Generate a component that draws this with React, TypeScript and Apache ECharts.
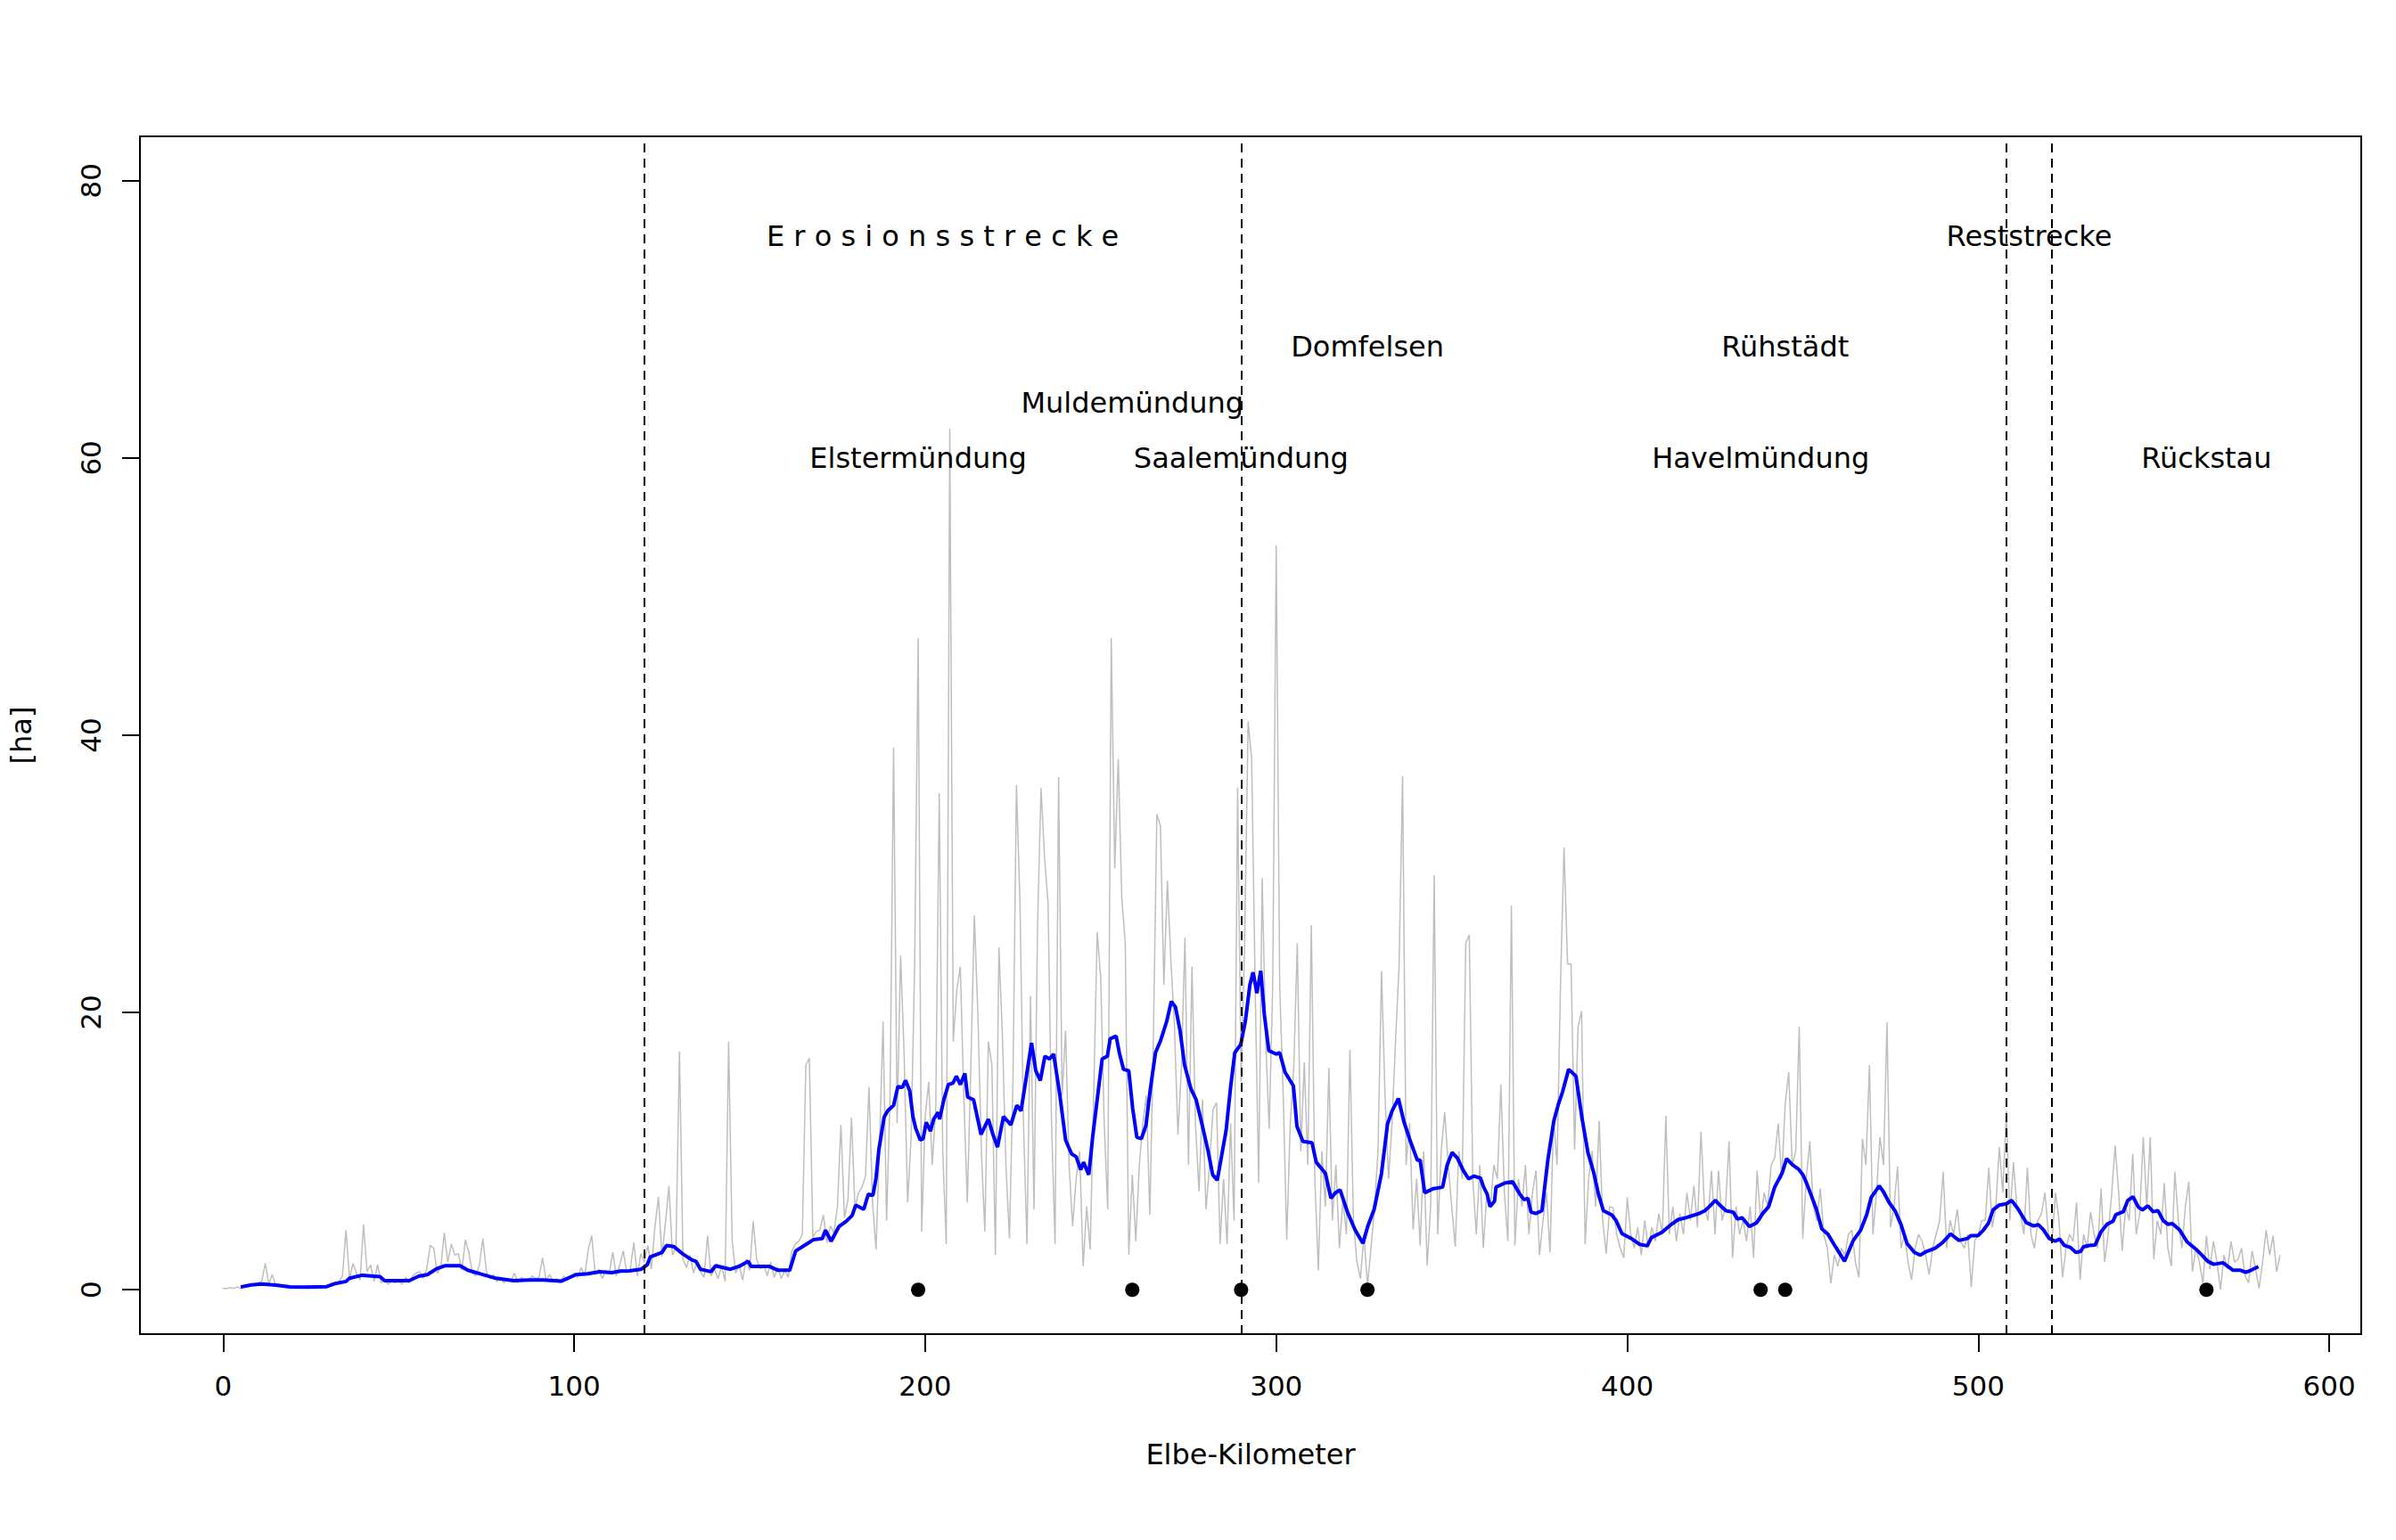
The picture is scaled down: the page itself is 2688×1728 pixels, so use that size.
import React, { useEffect, useRef } from "react";
import * as echarts from "echarts";

// Raw values per Elbe kilometre (index = km, 0..586)
const rawValues: number[] = [
  0.1, 0.1, 0.15, 0.1, 0.2, 0.1, 0.3, 0.2, 0.4, 0.3,
  0.5, 0.6, 1.9, 0.4, 1.1, 0.3, 0.4, 0.2, 0.3, 0.2,
  0.2, 0.3, 0.1, 0.2, 0.3, 0.2, 0.1, 0.2, 0.3, 0.2,
  0.3, 0.5, 0.4, 0.6, 1.0, 4.3, 0.8, 1.9, 1.2, 0.7,
  4.7, 1.3, 1.8, 0.6, 1.8, 0.5, 0.7, 0.4, 0.6, 0.5,
  0.6, 0.4, 0.9, 0.5, 1.0, 1.2, 1.3, 0.8, 1.5, 3.2,
  3.0, 1.2, 1.6, 4.1, 2.0, 3.3, 2.5, 2.6, 1.4, 3.6,
  2.7, 1.2, 1.0, 1.8, 3.7, 1.3, 0.8, 1.1, 0.6, 0.9,
  0.5, 0.8, 0.6, 1.2, 0.5, 0.9, 0.7, 0.6, 1.0, 0.8,
  0.9, 2.3, 0.7, 1.1, 0.6, 0.8, 0.5, 1.0, 0.7, 0.9,
  1.2, 0.9, 1.6, 1.0, 2.9, 3.9, 1.1, 1.5, 0.8, 1.4,
  1.2, 2.7, 1.0, 1.8, 2.8, 1.2, 1.5, 3.4, 1.0, 2.6,
  2.0, 3.2, 1.5, 4.5, 6.7, 2.4, 4.8, 7.5, 2.5, 3.0,
  17.2, 2.2, 1.6, 2.5, 1.2, 2.0, 1.3, 0.9, 3.9, 1.0,
  1.5, 0.8, 1.7, 0.6, 17.9, 3.6, 1.2, 1.8, 0.7, 2.2,
  1.4, 4.95, 2.2, 1.5, 1.8, 1.0, 2.0, 0.9, 1.6, 0.8,
  1.4, 0.9, 2.8, 3.3, 3.5, 4.0, 16.2, 16.7, 3.8, 4.2,
  4.3, 5.4, 3.4, 4.6, 4.1, 6.0, 11.9, 5.2, 6.5, 12.4,
  5.9, 7.0, 7.4, 8.2, 14.6, 6.3, 2.9, 10.5, 19.35, 5.0,
  14.0, 39.1, 12.0, 24.1, 17.0, 6.3, 11.0, 23.5, 47.0, 4.2,
  12.5, 15.0, 9.0, 13.0, 35.8, 10.0, 3.3, 62.1, 17.9, 21.6,
  23.3, 14.0, 6.3, 16.0, 27.0, 20.0, 10.0, 4.2, 17.9, 16.2,
  2.5, 24.7, 18.3, 9.0, 3.7, 15.0, 36.4, 27.9, 12.0, 3.3,
  21.2, 5.8, 26.2, 36.2, 31.2, 27.9, 12.0, 3.3, 37.0, 14.0,
  18.7, 9.0, 4.6, 8.0, 10.0, 1.7, 6.0, 2.9, 14.0, 25.8,
  22.5, 12.0, 5.8, 47.0, 30.4, 38.3, 28.3, 25.0, 2.5, 8.3,
  3.5, 9.0, 12.0, 14.0, 5.4, 18.0, 34.3, 33.5, 22.0, 29.5,
  23.7, 19.1, 11.2, 16.0, 25.4, 9.0, 23.3, 12.0, 7.1, 13.7,
  5.8, 9.0, 13.0, 13.5, 3.3, 8.0, 3.3, 12.0, 5.0, 36.2,
  15.0, 25.0, 41.0, 38.3, 22.0, 7.7, 29.7, 18.0, 11.6, 22.0,
  53.7, 21.8, 14.0, 3.6, 12.0, 16.0, 25.0, 10.0, 16.4, 9.0,
  26.3, 8.0, 1.4, 10.0, 6.0, 16.0, 5.0, 9.0, 3.0, 6.5,
  4.0, 17.3, 5.0, 2.0, 0.8, 4.0, 0.3, 3.0, 6.0, 10.0,
  23.0, 14.0, 8.0, 12.0, 18.0, 23.3, 37.05, 9.0, 12.0, 4.35,
  8.0, 3.2, 10.0, 1.75, 6.0, 29.9, 4.0, 10.0, 12.8, 9.0,
  6.0, 3.1, 10.0, 8.0, 25.0, 25.6, 8.0, 4.0, 9.0, 3.0,
  7.0, 6.0, 9.0, 8.0, 14.8, 7.0, 3.5, 27.7, 3.2, 8.0,
  6.0, 9.0, 4.0, 7.0, 8.6, 2.5, 5.0, 7.0, 2.7, 12.4,
  9.0, 22.2, 31.9, 23.5, 23.5, 10.1, 19.0, 20.1, 3.3, 8.0,
  10.0, 6.0, 12.2, 5.0, 2.6, 6.0, 5.9, 4.0, 3.0, 2.3,
  6.66, 4.0, 3.0, 4.5, 2.5, 5.0, 3.0, 4.5, 3.5, 5.5,
  4.0, 12.55, 4.0, 6.0, 3.5, 5.5, 4.0, 7.0, 5.0, 7.5,
  4.5, 11.4, 6.0, 5.0, 8.6, 4.0, 8.6, 5.0, 6.0, 10.7,
  2.3, 6.0, 4.0, 5.0, 3.5, 6.0, 2.3, 8.6, 5.0, 7.0,
  6.0, 9.0, 9.5, 12.0, 8.0, 13.4, 15.7, 9.0, 10.0, 19.0,
  3.7, 8.0, 10.7, 6.0, 5.0, 7.3, 4.0, 3.0, 0.45, 2.5,
  1.7, 3.0, 2.5, 4.0, 4.3, 2.0, 0.9, 10.9, 9.0, 16.2,
  4.0, 7.0, 11.0, 9.0, 19.3, 4.5, 6.0, 8.9, 3.0, 4.0,
  2.0, 0.7, 3.0, 4.0, 3.5, 2.5, 1.1, 3.0, 4.0, 5.0,
  8.5, 3.0, 5.0, 4.0, 5.8, 3.5, 3.0, 4.0, 0.2, 3.5,
  4.0, 5.0, 5.0, 8.8, 4.5, 6.0, 10.3, 7.0, 12.9, 5.0,
  9.2, 6.0, 5.5, 4.0, 8.8, 4.0, 3.0, 5.0, 5.5, 7.0,
  4.0, 3.5, 7.0, 5.0, 0.9, 3.0, 4.0, 3.5, 6.3, 0.7,
  4.0, 3.0, 5.6, 4.0, 3.0, 7.3, 2.0, 4.0, 6.9, 10.4,
  7.0, 2.8, 6.0, 5.0, 9.8, 4.0, 5.5, 11.0, 6.0, 11.0,
  2.2, 5.0, 4.0, 7.7, 3.0, 1.7, 8.5, 5.0, 3.0, 6.0,
  7.8, 1.3, 3.0, 2.0, 0.45, 3.9, 1.5, 3.5, 2.0, 0.0,
  2.5, 1.5, 3.5, 2.0, 2.2, 3.0, 1.0, 0.5, 2.8, 1.5,
  0.1, 2.0, 4.3, 2.5, 3.9, 1.3, 2.5,
];

// Smoothed curve (km, value)
const smoothKm: number[] = [
  5, 8, 11, 15, 19, 24, 29.5, 32, 35, 36, 39.6, 44.7, 46, 49, 53, 55.7, 58.2, 60.8, 63.3, 67.5,
  69.7, 73.5, 77.7, 82.8, 87, 91.2, 96.3, 100.5, 103.9, 107.3, 110.7, 113.2, 115.7, 119.1, 120.8, 121.7,
  125, 126.3, 128.4, 130.9, 133.5, 134.7, 136, 139, 140.3, 144.5, 147, 149.6, 150.4, 155.5, 158.1, 161.4,
  163.1, 166.1, 168.2, 170.7, 171.6, 173.2, 175.4, 177.5, 179.2, 180.2, 182.5, 183.8, 185.1, 186, 186.8, 188.3,
  189.3, 191, 192.2, 193.5, 194.4, 195.6, 196.5, 197.3, 198.6, 199.4, 200.3, 201.5, 202.4, 203.7, 204.1, 205.3,
  206.6, 207.9, 208.9, 210, 211.3, 212.1, 213.8, 215.9, 218, 219.3, 220.6, 222.3, 224.4, 226.1, 227.3, 228.6,
  230.3, 231.5, 232.8, 234.1, 235.4, 236.6, 238.3, 240, 241.7, 243, 244.3, 245.1, 246.6, 247.7, 248.9, 250.4,
  251.9, 252.7, 254.4, 255.3, 256.5, 258, 259.1, 260.3, 261.6, 262.9, 264.1, 265.6, 267.1, 268.8, 270.1, 271.3,
  272.6, 273.9, 275.7, 277.2, 278.9, 280.6, 281.9, 283.2, 284.4, 285.7, 287, 288.2, 289.9, 291.2, 292.5, 293.4,
  294.5, 295.6, 296.6, 297.9, 300, 301, 302.5, 304.9, 305.9, 307.6, 310.2, 311.4, 314, 315.6, 316.9, 318.2,
  320.3, 322.4, 324.7, 326.1, 327.9, 330, 331.7, 333, 334.8, 336.4, 338.1, 340.2, 341, 342.3, 344.8, 347.4,
  348.7, 350.1, 351.6, 353.3, 354.8, 356.3, 358.2, 359.1, 360.1, 360.9, 362.2, 362.6, 365.1, 367.3, 369.4, 370.6,
  371.7, 372.6, 374, 375.7, 377.4, 379.1, 380.4, 381.6, 383.3, 384.6, 385.4, 387.1, 388.8, 390.5, 391.8, 393.2,
  395.6, 396.8, 398.5, 401.4, 403.5, 405.7, 406.9, 409.9, 412.4, 414.5, 416.7, 419.2, 420.5, 422.1, 423.4, 425.1,
  426.4, 428.1, 430.2, 431.4, 432.7, 434.8, 436.9, 438.6, 440.3, 442, 444.1, 445.4, 447.1, 448.8, 450.1, 451.3,
  453.9, 455.4, 457.2, 458.9, 461.9, 464.4, 466.5, 468.2, 469.5, 471.8, 472.9, 474.6, 476.3, 478, 479.7, 481.8,
  483.5, 485.2, 487.7, 489.8, 492.1, 494.5, 497, 497.8, 499.9, 501.6, 502.9, 504.2, 505.9, 508, 509.5, 511.4,
  513.7, 515.8, 517.1, 518.5, 520.2, 521.9, 523.2, 524.5, 526.2, 527.8, 529.1, 530, 531.6, 533.3, 535, 536.7,
  538.4, 539.2, 541.3, 542.6, 544.1, 545.6, 546.8, 548.3, 549.8, 551.2, 552.7, 554, 555.3, 557.4, 559.5, 562.1,
  564.2, 565.4, 567.1, 569.7, 572.6, 574.7, 576.2, 577.7, 579.8,
];
const smoothVal: number[] = [
  0.2, 0.35, 0.41, 0.34, 0.21, 0.19, 0.23, 0.45, 0.6, 0.83, 1.05, 0.94, 0.66, 0.66, 0.66, 0.98, 1.09, 1.52, 1.74, 1.74,
  1.41, 1.13, 0.83, 0.66, 0.7, 0.7, 0.62, 1.09, 1.15, 1.3, 1.24, 1.35, 1.37, 1.48, 1.8, 2.37,
  2.69, 3.19, 3.12, 2.59, 2.16, 2.05, 1.48, 1.31, 1.73, 1.48, 1.69, 2.05, 1.69, 1.69, 1.41, 1.41,
  2.8, 3.28, 3.62, 3.7, 4.3, 3.5, 4.55, 4.94, 5.36, 6.1, 5.8, 6.9, 6.8, 8.05, 10.1, 12.45,
  12.9, 13.3, 14.65, 14.6, 15.1, 14.35, 12.5, 11.65, 10.8, 10.9, 12.07, 11.45, 12.3, 12.8, 12.3, 13.7,
  14.8, 14.9, 15.4, 14.8, 15.6, 13.9, 13.7, 11.2, 12.3, 11.2, 10.3, 12.5, 11.9, 13.3, 12.9, 15,
  17.8, 15.8, 15.1, 16.85, 16.65, 17, 14.15, 10.8, 9.8, 9.6, 8.65, 9.2, 8.3, 11, 13.5, 16.65,
  16.85, 18.1, 18.3, 17.1, 15.9, 15.8, 13.1, 11, 10.9, 11.86, 14.4, 17.1, 18, 19.35, 20.8, 20.4,
  18.7, 16.2, 14.5, 13.7, 11.9, 10, 8.3, 7.9, 9.6, 11.45, 14.6, 17.1, 17.7, 19.35, 22, 22.9,
  21.4, 23, 19.9, 17.25, 17, 17.1, 15.7, 14.7, 11.8, 10.7, 10.6, 9.2, 8.4, 6.6, 7, 7.2,
  5.6, 4.35, 3.35, 4.6, 5.8, 8.4, 11.95, 12.9, 13.8, 12.1, 10.8, 9.35, 9.35, 7, 7.3, 7.4,
  9, 9.9, 9.5, 8.6, 8, 8.2, 8.05, 7.4, 6.9, 6, 6.4, 7.4, 7.7, 7.8, 6.9, 6.5,
  6.6, 5.6, 5.5, 5.7, 9.4, 12.2, 13.4, 14.3, 15.9, 15.6, 15.4, 12.4, 9.9, 8.4, 6.9, 5.7,
  5.4, 5, 4.05, 3.66, 3.28, 3.17, 3.77, 4.14, 4.69, 5.06, 5.2, 5.4, 5.5, 5.7, 6.0, 6.45,
  6.1, 5.7, 5.6, 5.1, 5.2, 4.56, 4.84, 5.5, 6, 7.4, 8.4, 9.45, 9, 8.7, 8.27, 7.56,
  5.8, 4.4, 4, 3.28, 2.06, 3.56, 4.3, 5.4, 6.66, 7.5, 7.1, 6.3, 5.7, 4.7, 3.34, 2.7,
  2.5, 2.76, 3, 3.4, 4.03, 3.56, 3.7, 3.9, 3.9, 4.35, 4.8, 5.76, 6.1, 6.2, 6.45, 5.8,
  4.84, 4.6, 4.7, 4.35, 3.7, 3.5, 3.66, 3.2, 3.06, 2.7, 2.76, 3.1, 3.2, 3.23, 4.2, 4.73,
  4.95, 5.42, 5.63, 6.45, 6.7, 5.97, 5.76, 6.06, 5.63, 5.7, 4.99, 4.73, 4.77, 4.3, 3.45, 2.91,
  2.37, 2.05, 1.84, 1.95, 1.41, 1.41, 1.26, 1.41, 1.67,
];

// Section boundaries (dashed lines)
const boundaryKm: number[] = [120, 290, 508, 521];

// Confluence / landmark points drawn on the zero line
const markerKm: number[] = [198, 259, 290, 326, 438, 445, 565];

// Text annotations
const labelTexts: string[] = [
  "E r o s i o n s s t r e c k e",
  "Reststrecke",
  "Domfelsen",
  "Rühstädt",
  "Muldemündung",
  "Elstermündung",
  "Saalemündung",
  "Havelmündung",
  "Rückstau",
];
const labelKm: number[] = [205, 514.5, 326, 445, 259, 198, 290, 438, 565];
const labelVal: number[] = [76, 76, 68, 68, 64, 60, 60, 60, 60];

const xTicks: number[] = [0, 100, 200, 300, 400, 500, 600];
const yTicks: number[] = [0, 20, 40, 60, 80];

const FONT = "DejaVu Sans";

export default function App() {
  const ref = useRef<HTMLDivElement>(null);

  useEffect(() => {
    if (!ref.current) return;
    const chart = echarts.init(ref.current, undefined, { renderer: "svg" });

    const option: any = {
      animation: false,
      backgroundColor: "#ffffff",
      textStyle: { fontFamily: FONT, color: "#000" },
      grid: {
        left: 153,
        top: 153,
        width: 2496,
        height: 1344,
        show: true,
        borderColor: "#000000",
        borderWidth: 2,
        backgroundColor: "transparent",
        containLabel: false,
      },
      xAxis: {
        type: "value",
        min: -23.7,
        max: 609.1,
        name: "Elbe-Kilometer",
        nameLocation: "middle",
        nameGap: 119,
        nameTextStyle: { fontFamily: FONT, fontSize: 32, color: "#000" },
        axisLine: { show: false, onZero: false },
        splitLine: { show: false },
        axisTick: {
          show: true,
          length: 20,
          customValues: xTicks,
          lineStyle: { color: "#000", width: 2 },
        },
        axisLabel: {
          show: true,
          customValues: xTicks,
          margin: 42,
          fontFamily: FONT,
          fontSize: 31,
          color: "#000",
        },
      },
      yAxis: {
        type: "value",
        min: -3.2,
        max: 83.2,
        name: "[ha]",
        nameLocation: "middle",
        nameRotate: 90,
        nameGap: 117,
        nameTextStyle: { fontFamily: FONT, fontSize: 32, color: "#000" },
        axisLine: { show: false, onZero: false },
        splitLine: { show: false },
        axisTick: {
          show: true,
          length: 20,
          customValues: yTicks,
          lineStyle: { color: "#000", width: 2 },
        },
        axisLabel: {
          show: true,
          customValues: yTicks,
          rotate: 90,
          margin: 40,
          fontFamily: FONT,
          fontSize: 31,
          color: "#000",
        },
      },
      series: [
        {
          type: "line",
          name: "raw",
          data: rawValues.map((v, i) => [i, v]),
          showSymbol: false,
          symbol: "none",
          silent: true,
          lineStyle: { color: "#BEBEBE", width: 1.5 },
          z: 1,
        },
        {
          type: "line",
          name: "boundaries",
          data: [],
          silent: true,
          markLine: {
            silent: true,
            symbol: ["none", "none"],
            label: { show: false },
            lineStyle: { color: "#000", width: 2, type: [10, 7], opacity: 1 },
            data: boundaryKm.map((k) => ({ xAxis: k })),
          },
          z: 2,
        },
        {
          type: "line",
          name: "smooth",
          data: smoothKm.map((k, i) => [k, smoothVal[i]]),
          showSymbol: false,
          symbol: "none",
          silent: true,
          lineStyle: { color: "#0000FF", width: 4 },
          z: 3,
        },
        {
          type: "scatter",
          name: "markers",
          data: markerKm.map((k) => [k, 0]),
          symbol: "circle",
          symbolSize: 16,
          silent: true,
          itemStyle: { color: "#000000", opacity: 1 },
          z: 4,
        },
        {
          type: "scatter",
          name: "labels",
          data: labelTexts.map((t, i) => ({ name: t, value: [labelKm[i], labelVal[i]] })),
          symbolSize: 0,
          silent: true,
          itemStyle: { color: "#000000", opacity: 0 },
          label: {
            show: true,
            position: "inside",
            formatter: "{b}",
            fontFamily: FONT,
            fontSize: 32,
            color: "#000000",
            opacity: 1,
            textBorderWidth: 0,
            align: "center",
            verticalAlign: "middle",
          },
          z: 5,
        },
      ],
    };

    chart.setOption(option);
    return () => chart.dispose();
  }, []);

  return (
    <div
      ref={ref}
      style={{ position: "absolute", left: 0, top: 0, width: 2688, height: 1728 }}
    />
  );
}
